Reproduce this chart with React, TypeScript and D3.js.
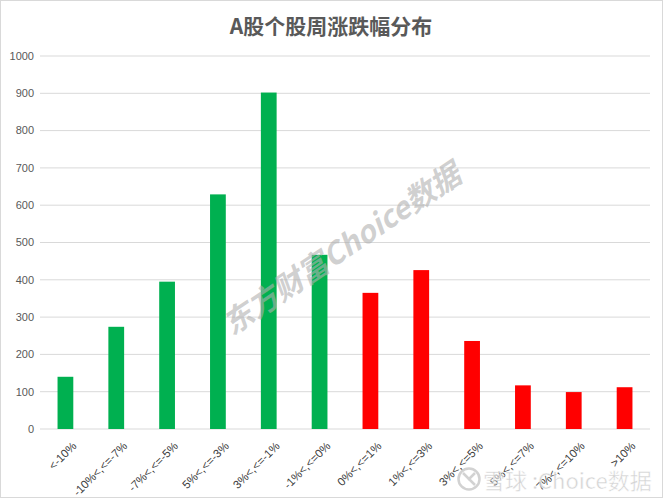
import React from "react";
import * as d3 from "d3";

const categories = [
  "<-10%",
  "-10%<,<=-7%",
  "-7%<,<=-5%",
  "5%<,<=-3%",
  "3%<,<=-1%",
  "-1%<,<=0%",
  "0%<,<=1%",
  "1%<,<=3%",
  "3%<,<=5%",
  "5%<,<=7%",
  "7%<,<=10%",
  ">10%",
];
const values = [140, 274, 395, 629, 902, 467, 365, 426, 236, 117, 99, 112];
const barColors = ["#00B050", "#00B050", "#00B050", "#00B050", "#00B050", "#00B050", "#FF0000", "#FF0000", "#FF0000", "#FF0000", "#FF0000", "#FF0000"];
const yTicks = [0, 100, 200, 300, 400, 500, 600, 700, 800, 900, 1000];
const title = "A股个股周涨跌幅分布";

const W = 664;
const H = 500;
const plot = { left: 40, right: 650, top: 56, bottom: 429 };

export default function App() {
  const x = d3
    .scaleBand<string>()
    .domain(categories)
    .range([plot.left, plot.right])
    .paddingInner(0.69)
    .paddingOuter(0.345);
  const y = d3.scaleLinear().domain([0, 1000]).range([plot.bottom, plot.top]);
  const labelFont = "'Liberation Sans', Arial, sans-serif";

  return (
    <svg
      width={W}
      height={H}
      style={{ position: "absolute", left: 0, top: 0, background: "#fff" }}
    >
      <rect x={0.5} y={0.5} width={W - 2} height={H - 3} fill="#fff" stroke="#d9d9d9" />
      <text
        x={331}
        y={34}
        textAnchor="middle"
        fontFamily="'Noto Sans CJK SC', sans-serif"
        fontWeight="bold"
        fontSize={21}
        fill="#595959"
      >
        {title}
      </text>
      {yTicks.map((t) => (
        <g key={t}>
          <line x1={plot.left} x2={plot.right} y1={y(t)} y2={y(t)} stroke="#d9d9d9" strokeWidth={1} />
          <text
            x={34}
            y={y(t)}
            dy="0.35em"
            textAnchor="end"
            fontFamily={labelFont}
            fontSize={11}
            fill="#595959"
          >
            {t}
          </text>
        </g>
      ))}
      {categories.map((c, i) => (
        <rect
          key={c}
          x={x(c)}
          y={y(values[i])}
          width={x.bandwidth()}
          height={y(0) - y(values[i])}
          fill={barColors[i]}
        />
      ))}
      {categories.map((c) => {
        const cx = (x(c) as number) + x.bandwidth() / 2;
        return (
          <text
            key={c}
            transform={`translate(${cx + 6},${plot.bottom + 12}) rotate(-45)`}
            textAnchor="end"
            dy="0.7em"
            fontFamily={labelFont}
            fontSize={11.5}
            fill="#404040"
          >
            {c}
          </text>
        );
      })}
      <text
        transform="translate(232,336) rotate(-34)"
        fontFamily="'Noto Sans CJK SC', sans-serif"
        fontWeight="bold"
        fontStyle="italic"
        fontSize={30}
        fill="#b0b0b0"
        fillOpacity={0.6}
      >
        东方财富Choice数据
      </text>
      <g opacity={0.8}>
        <circle cx={469} cy={479} r={10.5} fill="none" stroke="#c8c8c8" strokeWidth={2.5} />
        <path d="M463,473 L475,485 M475,473 L468,480" stroke="#c8c8c8" strokeWidth={2.5} fill="none" />
        <text
          x={483}
          y={489}
          fontFamily="'Noto Sans CJK SC', sans-serif"
          fontSize={22}
          fill="#c8c8c8"
          stroke="#fff"
          strokeWidth={0.5}
        >
          雪球 :Choice数据
        </text>
      </g>
    </svg>
  );
}
